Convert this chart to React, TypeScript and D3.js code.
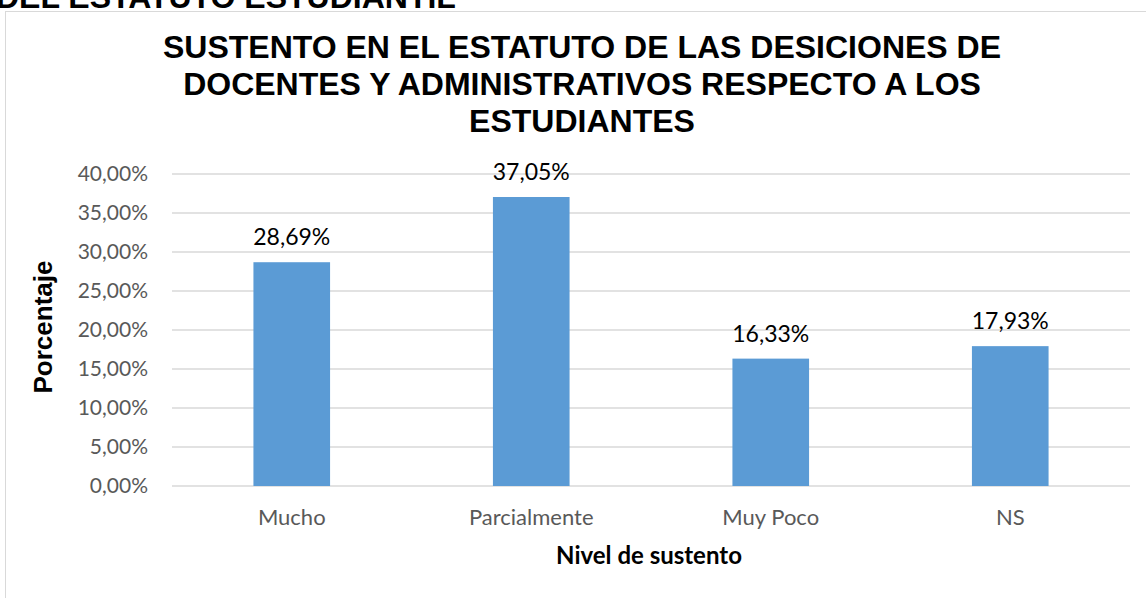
import React from "react";
import * as d3 from "d3";

const categories = ["Mucho", "Parcialmente", "Muy Poco", "NS"];
const values = [28.69, 37.05, 16.33, 17.93];
const yTicks = [0, 5, 10, 15, 20, 25, 30, 35, 40];
const titleLines = [
  "SUSTENTO EN EL ESTATUTO DE LAS DESICIONES DE",
  "DOCENTES Y ADMINISTRATIVOS RESPECTO A LOS",
  "ESTUDIANTES",
];

const W = 1146;
const H = 598;
const plot = { left: 172, right: 1130, top: 174, bottom: 486 };

const fmt = (v: number) => v.toFixed(2).replace(".", ",") + "%";

export default function App() {
  const x = d3
    .scaleBand<string>()
    .domain(categories)
    .range([plot.left, plot.right])
    .paddingInner(0.68)
    .paddingOuter(0.34);
  const y = d3.scaleLinear().domain([0, 40]).range([plot.bottom, plot.top]);

  return (
    <svg
      width={W}
      height={H}
      style={{ position: "absolute", left: 0, top: 0, background: "#fff" }}
    >
      <text
        x={-4}
        y={7.5}
        fontFamily="'Liberation Sans', Arial, sans-serif"
        fontWeight="bold"
        fontSize={32}
        fill="#000"
      >
        DEL ESTATUTO ESTUDIANTIL
      </text>
      <rect x={5.5} y={11.5} width={W} height={H} fill="#fff" stroke="#d9d9d9" strokeWidth={1} />
      {titleLines.map((t, i) => (
        <text
          key={i}
          x={582}
          y={58 + i * 37}
          textAnchor="middle"
          fontFamily="'Liberation Sans', Arial, sans-serif"
          fontWeight="bold"
          fontSize={32}
          fill="#000"
        >
          {t}
        </text>
      ))}
      {yTicks.map((t) => (
        <g key={t}>
          <line
            x1={plot.left}
            x2={plot.right}
            y1={y(t)}
            y2={y(t)}
            stroke="#d9d9d9"
            strokeWidth={1.3}
          />
          <text
            x={148}
            y={y(t) + 7}
            textAnchor="end"
            fontFamily="Lato, 'Open Sans', sans-serif"
            fontSize={21}
            fill="#595959"
          >
            {fmt(t)}
          </text>
        </g>
      ))}
      {categories.map((c, i) => {
        const bx = x(c)!;
        const by = y(values[i]);
        return (
          <g key={c}>
            <rect
              x={bx}
              y={by}
              width={x.bandwidth()}
              height={y(0) - by}
              fill="#5b9bd5"
            />
            <text
              x={bx + x.bandwidth() / 2}
              y={by - 17}
              textAnchor="middle"
              fontFamily="Lato, 'Open Sans', sans-serif"
              fontSize={23}
              fill="#000"
            >
              {fmt(values[i])}
            </text>
            <text
              x={bx + x.bandwidth() / 2}
              y={525}
              textAnchor="middle"
              fontFamily="Lato, 'Open Sans', sans-serif"
              fontSize={22}
              fill="#595959"
            >
              {c}
            </text>
          </g>
        );
      })}
      <text
        x={649}
        y={564}
        textAnchor="middle"
        fontFamily="Lato, 'Open Sans', sans-serif"
        fontWeight="bold"
        fontSize={24}
        fill="#000"
      >
        Nivel de sustento
      </text>
      <text
        transform={`translate(52, 327) rotate(-90)`}
        textAnchor="middle"
        fontFamily="'Liberation Sans', Arial, sans-serif"
        fontWeight="bold"
        fontSize={26}
        fill="#000"
      >
        Porcentaje
      </text>
    </svg>
  );
}
